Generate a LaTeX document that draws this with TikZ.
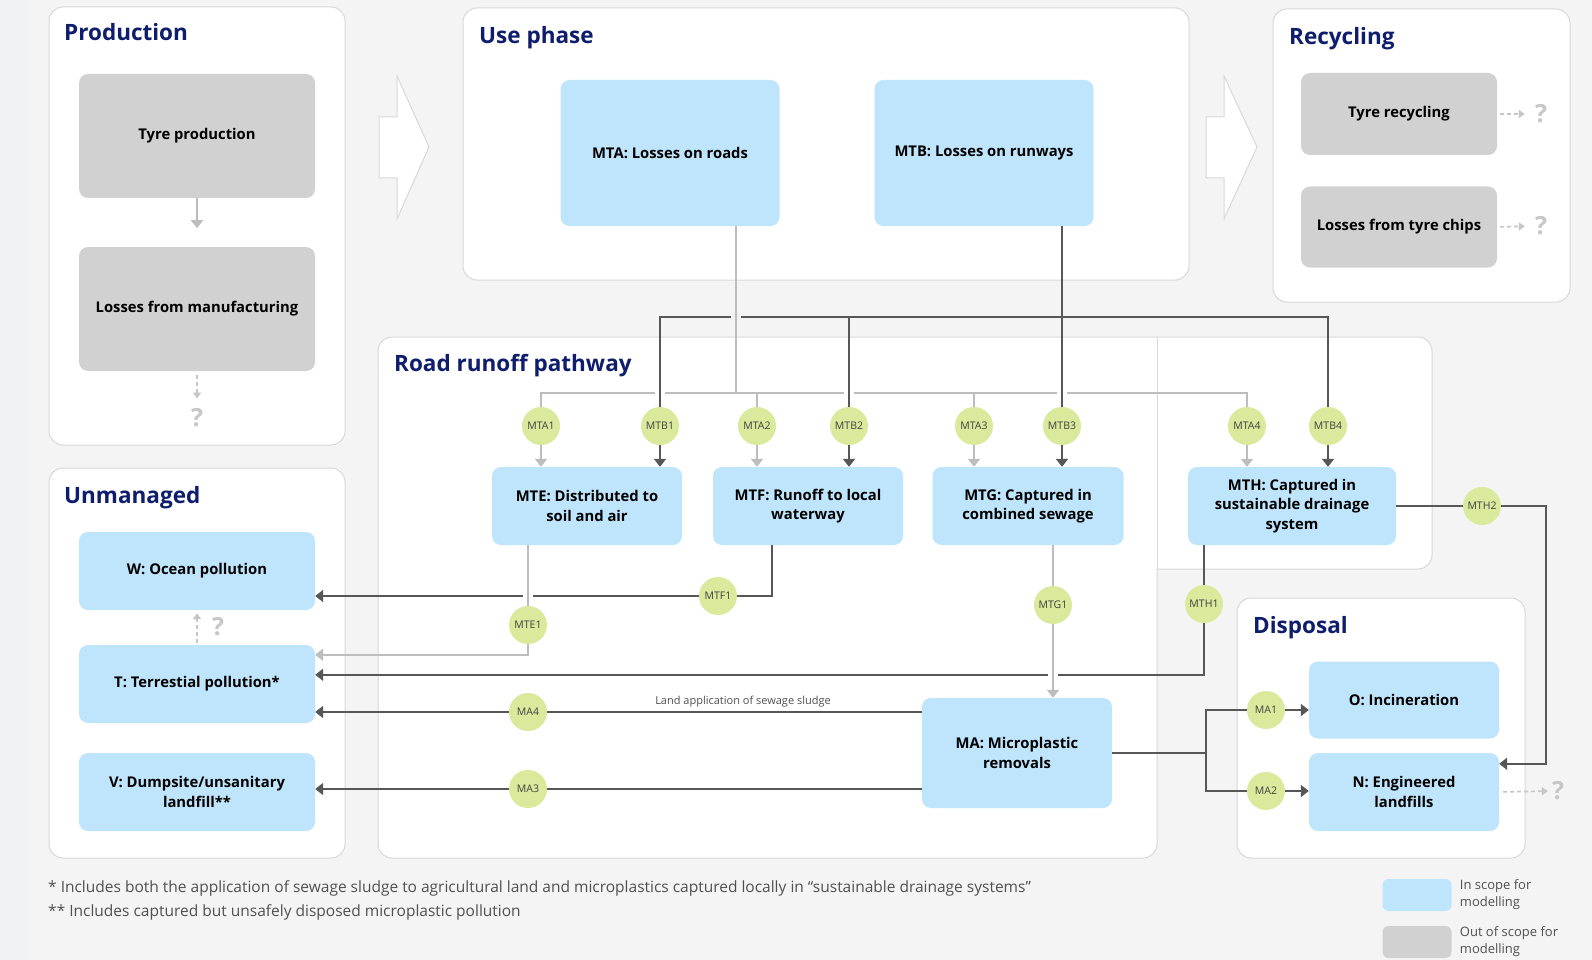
\documentclass[tikz,border=0pt]{standalone}
\usepackage{fontspec}
\setmainfont{Open Sans}
\usetikzlibrary{positioning,calc,arrows.meta}

\definecolor{bgcol}{HTML}{F4F4F4}
\definecolor{stripcol}{HTML}{F1F2F4}
\definecolor{panelline}{HTML}{D8D8D8}
\definecolor{navy}{HTML}{0E1D6C}
\definecolor{inblue}{HTML}{BFE5FC}
\definecolor{outgray}{HTML}{D1D1D1}
\definecolor{flowgreen}{HTML}{DAE99C}
\definecolor{darkline}{HTML}{575757}
\definecolor{lightline}{HTML}{BDBDBD}
\definecolor{qgray}{HTML}{C6C6C6}
\definecolor{notegray}{HTML}{505050}

\begin{document}
\begin{tikzpicture}[x=1pt, y=-1pt,
  panel/.style={draw=panelline, fill=white, line width=1pt, rounded corners=14pt},
  paneltitle/.style={anchor=base west, inner sep=0pt, text=navy, font=\fontsize{22.5}{26}\selectfont\bfseries},
  inbox/.style={fill=inblue, rounded corners=9pt, align=center, inner sep=0pt, text=black,
    font=\fontsize{14.8}{19.5}\selectfont\bfseries},
  outbox/.style={inbox, fill=outgray},
  flow/.style={circle, fill=flowgreen, minimum size=38pt, inner sep=0pt, text=black!75,
    font=\fontsize{10.5}{12}\selectfont},
  darkflow/.style={draw=darkline, line width=2pt},
  lightflow/.style={draw=lightline, line width=2pt},
  headed/.style={-{Triangle[width=12pt,length=8pt]}},
  unknownflow/.style={draw=qgray, line width=1.6pt, dash pattern=on 4pt off 3pt,
    -{Triangle[width=8pt,length=6pt]}},
  qmark/.style={inner sep=0pt, text=qgray, font=\fontsize{25}{28}\selectfont\bfseries},
  bridgegap/.style={fill=#1, inner sep=0pt, minimum width=10pt, minimum height=6pt},
  bigarrow/.style={draw=panelline, fill=white, line width=1pt},
  linelabel/.style={inner sep=0pt, text=notegray, font=\fontsize{11}{13}\selectfont},
  notetext/.style={anchor=base west, inner sep=0pt, text=notegray, font=\fontsize{15.5}{17}\selectfont},
  keytext/.style={inner sep=0pt, align=left, text=notegray, font=\fontsize{13}{17}\selectfont}
]
\useasboundingbox (0,0) rectangle (1592,960);
\fill[bgcol] (0,0) rectangle (1592,960);
\fill[stripcol] (0,0) rectangle (30,960);

% Panels
\draw[panel] (49,7) rectangle (345,445); % Production
\draw[panel] (463,8) rectangle (1189,280); % Use phase
\draw[panel] (1273,9) rectangle (1570,302); % Recycling
\draw[panel] (49,468) rectangle (345,858); % Unmanaged
\draw[panel] (1157,569) -- (1432,569) -- (1432,337) -- (378,337) -- (378,858) -- (1157,858) -- (1157,569); % Road runoff
\draw[draw=panelline, line width=1pt] (1157,337) -- (1157,569);
\draw[panel] (1237,598) rectangle (1525,858); % Disposal

% Stage arrows
\draw[bigarrow] (379,117) -- (397,117) -- (397,76) -- (429,147) -- (397,219) -- (397,178) -- (379,178) -- cycle;
\draw[bigarrow] (1206,117) -- (1224,117) -- (1224,76) -- (1257,147) -- (1224,219) -- (1224,178) -- (1206,178) -- cycle;

% Titles
\node[paneltitle] (tprod) at (64,41) {Production};
\node[paneltitle] (tuse) at (479,44) {Use phase};
\node[paneltitle] (trec) at (1289,45) {Recycling};
\node[paneltitle] (troad) at (394,371) {Road runoff pathway};
\node[paneltitle] (tunman) at (64,503) {Unmanaged};
\node[paneltitle] (tdisp) at (1253,633) {Disposal};

% Boxes
\node[outbox, minimum width=236, minimum height=124] (tyre) at (197,136) {Tyre production};
\node[outbox, minimum width=236, minimum height=124] (manuf) at (197,309) {Losses from manufacturing};
\node[inbox, minimum width=219, minimum height=146] (mta) at (670,153) {MTA: Losses on roads};
\node[inbox, minimum width=219, minimum height=146] (mtb) at (984,153) {MTB: Losses on runways};
\node[outbox, minimum width=196, minimum height=82] (tyrerec) at (1399,114) {Tyre recycling};
\node[outbox, minimum width=196, minimum height=81] (chips) at (1399,227) {Losses from tyre chips};
\node[inbox, minimum width=190, minimum height=78] (mte) at (587,506) {MTE: Distributed to\\soil and air};
\node[inbox, minimum width=190, minimum height=78] (mtf) at (808,506) {MTF: Runoff to local\\waterway};
\node[inbox, minimum width=191, minimum height=78] (mtg) at (1028,506) {MTG: Captured in\\combined sewage};
\node[inbox, minimum width=208, minimum height=78] (mth) at (1292,506) {MTH: Captured in\\sustainable drainage\\system};
\node[inbox, minimum width=190, minimum height=110] (ma) at (1017,753) {MA: Microplastic\\removals};
\node[inbox, minimum width=236, minimum height=78] (ocean) at (197,571) {W: Ocean pollution};
\node[inbox, minimum width=236, minimum height=78] (terr) at (197,684) {T: Terrestial pollution*};
\node[inbox, minimum width=236, minimum height=78] (dump) at (197,792) {V: Dumpsite/unsanitary\\landfill**};
\node[inbox, minimum width=190, minimum height=77] (incin) at (1404,700) {O: Incineration};
\node[inbox, minimum width=190, minimum height=78] (landf) at (1404,792) {N: Engineered\\landfills};

% Flow nodes
\node[flow] (mta1) at (541,426) {MTA1};
\node[flow] (mtb1) at (660,426) {MTB1};
\node[flow] (mta2) at (757,426) {MTA2};
\node[flow] (mtb2) at (849,426) {MTB2};
\node[flow] (mta3) at (974,426) {MTA3};
\node[flow] (mtb3) at (1062,426) {MTB3};
\node[flow] (mta4) at (1247,426) {MTA4};
\node[flow] (mtb4) at (1328,426) {MTB4};
\node[flow] (mte1) at (528,625) {MTE1};
\node[flow] (mtf1) at (718,596) {MTF1};
\node[flow] (mtg1) at (1053,605) {MTG1};
\node[flow] (mth1) at (1204,604) {MTH1};
\node[flow] (mth2) at (1482,506) {MTH2};
\node[flow] (ma4) at (528,712) {MA4};
\node[flow] (ma3) at (528,789) {MA3};
\node[flow] (ma1) at (1266,710) {MA1};
\node[flow] (ma2) at (1266,791) {MA2};

% Question marks
\node[qmark] (q1) at (197,418) {?};
\node[qmark] (q2) at (218,627) {?};
\node[qmark] (q3) at (1541,114) {?};
\node[qmark] (q4) at (1541,226) {?};
\node[qmark] (q5) at (1558,791) {?};

\coordinate (dbus) at (0,317);
\coordinate (lbus) at (0,393);
\coordinate (mtaout) at ([xshift=66]mta.south);
\coordinate (mtfout) at ([xshift=-36]mtf.south);
\coordinate (pend) at ($(tyre.south)+(0,30)$);
\coordinate (tin1) at ($(terr.north east)+(0,10)$);
\coordinate (tin2) at ($(terr.north east)+(0,30)$);
\coordinate (nin) at ($(landf.north east)+(0,11)$);

% Production and recycling
\draw[lightflow, headed] (tyre.south) -- (pend);
\draw[unknownflow, shorten <=4pt, shorten >=10pt] (manuf.south) -- (q1.north);
\draw[unknownflow, shorten <=3pt, shorten >=10pt] (tyrerec.east) -- (q3.west);
\draw[unknownflow, shorten <=3pt, shorten >=10pt] (chips.east) -- (q4.west);

% Road losses (MTA)
\draw[lightflow] (mta1) |- (mta4 |- lbus) -- (mta4);
\draw[lightflow] (mta2 |- lbus) -- (mta2);
\draw[lightflow] (mta3 |- lbus) -- (mta3);
\node[bridgegap=white] (x1) at (mtb1 |- lbus) {};
\node[bridgegap=white] (x2) at (mtb2 |- lbus) {};
\node[bridgegap=white] (x3) at (mtb3 |- lbus) {};

% Runway losses (MTB)
\draw[darkflow] (mtb.south -| mtb3) -- (mtb3);
\draw[darkflow] (mtb1) |- (mtb4 |- dbus) -- (mtb4);
\draw[darkflow] (mtb2 |- dbus) -- (mtb2);
\node[bridgegap=bgcol] (x4) at (mtaout |- dbus) {};
\draw[lightflow] (mtaout) -- (mtaout |- lbus);

% Into the pathway boxes
\draw[lightflow, headed] (mta1) -- (mta1 |- mte.north);
\draw[darkflow, headed] (mtb1) -- (mtb1 |- mte.north);
\draw[lightflow, headed] (mta2) -- (mta2 |- mtf.north);
\draw[darkflow, headed] (mtb2) -- (mtb2 |- mtf.north);
\draw[lightflow, headed] (mta3) -- (mta3 |- mtg.north);
\draw[darkflow, headed] (mtb3) -- (mtb3 |- mtg.north);
\draw[lightflow, headed] (mta4) -- (mta4 |- mth.north);
\draw[darkflow, headed] (mtb4) -- (mtb4 |- mth.north);

% Out of the pathway boxes
\draw[darkflow] (mtfout) |- (mtf1);
\draw[darkflow, headed] (mtf1) -- (mtf1 -| ocean.east);
\node[bridgegap=white] (x5) at (mte1 |- mtf1) {};
\draw[lightflow] (mte.south -| mte1) -- (mte1);
\draw[lightflow, headed] (mte1) |- (tin1);
\draw[darkflow] (mth.south -| mth1) -- (mth1);
\draw[darkflow, headed] (mth1) |- (tin2);
\node[bridgegap=white] (x6) at (mtg1 |- tin2) {};
\draw[lightflow] (mtg.south -| mtg1) -- (mtg1);
\draw[lightflow, headed] (mtg1) -- (mtg1 |- ma.north);
\draw[darkflow] (mth) -- (mth2);
\draw[darkflow, headed] (mth2) -- ++(64,0) |- (nin);

% Microplastic removals
\draw[darkflow] (ma.west |- ma4) -- (ma4);
\draw[darkflow, headed] (ma4) -- (ma4 -| terr.east);
\node[linelabel] (sludge) at (743,702) {Land application of sewage sludge};
\draw[darkflow] (ma.west |- ma3) -- (ma3);
\draw[darkflow, headed] (ma3) -- (ma3 -| dump.east);
\draw[darkflow] (ma.east) -- ++(94,0) coordinate (mafork);
\draw[darkflow] (ma1) -| (mafork) |- (ma2);
\draw[darkflow, headed] (ma1) -- (ma1 -| incin.west);
\draw[darkflow, headed] (ma2) -- (ma2 -| landf.west);
\draw[unknownflow, shorten <=4pt, shorten >=4pt] (landf.east) -- (q5.west);
\draw[unknownflow, shorten <=2pt, shorten >=3pt] (terr.north) -- (ocean.south);

% Footnotes
\node[notetext] (note1) at (48,892) {* Includes both the application of sewage sludge to agricultural land and microplastics captured locally in “sustainable drainage systems”};
\node[notetext] (note2) at (48,916) {** Includes captured but unsafely disposed microplastic pollution};

% Legend
\node[inbox, minimum width=69, minimum height=32, rounded corners=6pt] (keyin) at (1417,895) {};
\node[keytext, right=8pt of keyin] (keyintext) {In scope for\\modelling};
\node[outbox, minimum width=69, minimum height=32, rounded corners=6pt] (keyout) at (1417,942) {};
\node[keytext, right=8pt of keyout] (keyouttext) {Out of scope for\\modelling};
\end{tikzpicture}
\end{document}
